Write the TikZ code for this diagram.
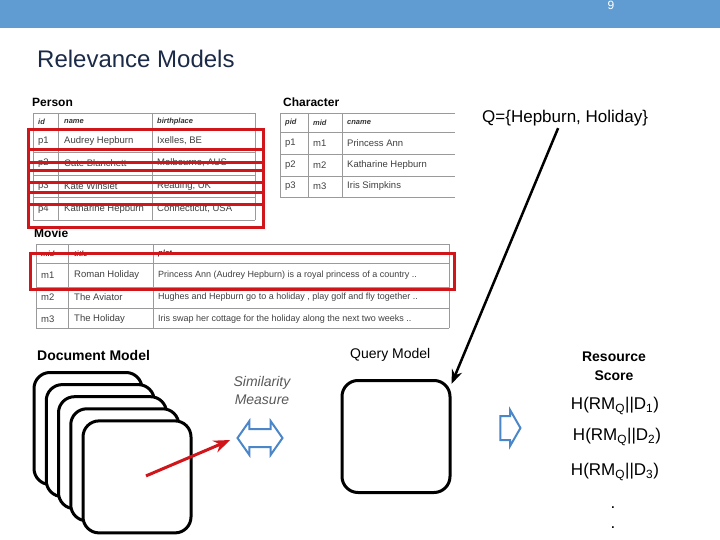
\documentclass[tikz,border=0pt]{standalone}
\usepackage{fontspec}
\setmainfont{Liberation Sans}
\usetikzlibrary{arrows.meta,calc,positioning,shapes.arrows}
\definecolor{bar}{HTML}{609CD2}
\definecolor{navy}{HTML}{1B2A47}
\definecolor{hl}{HTML}{D0161B}
\definecolor{grid}{HTML}{9A9A9A}
\definecolor{sky}{HTML}{4A86C8}

\begin{document}
\begin{tikzpicture}[x=1pt,y=-1pt,>=Stealth,every node/.style={inner sep=0pt},
cell/.style={anchor=west,font=\fontsize{9.5}{11}\selectfont,text=black!75},
head/.style={anchor=west,font=\fontsize{7.5}{9}\selectfont\bfseries\itshape,text=black!80},
tname/.style={anchor=west,font=\fontsize{12}{14}\selectfont\bfseries},
model/.style={draw,line width=3pt,rounded corners=16pt,fill=white,minimum width=108pt,minimum height=112pt},
lbl/.style={font=\fontsize{14}{19}\selectfont,align=center},
score/.style={font=\fontsize{17}{20}\selectfont},
hilite/.style={draw=hl,line width=3pt},
rows/.style={draw=grid,line width=0.8pt}]
\useasboundingbox (0,0) rectangle (720,540);
\fill[bar] (0,0) rectangle (720,28);
\node[text=white,font=\fontsize{12}{14}\selectfont] (pg) at (611,5) {9};
\node[anchor=west,text=navy,font=\fontsize{24}{28}\selectfont] (title) at (37,59) {Relevance Models};

% Person
\node[tname] (person) at (32,102) {Person};
\foreach \y in {113,130,152,175,197,220} \draw[rows] (33,\y) -- (255,\y);
\foreach \x in {33,58,152,255} \draw[rows] (\x,113) -- (\x,220);
\node[head] at (38,122) {id};
\node[head] at (64,122) {name};
\node[head] at (157,122) {birthplace};
\foreach \i/\n/\b/\y in {p1/Audrey Hepburn/{Ixelles, BE}/141,p2/Cate Blanchett/{Melbourne, AUS}/163,
  p3/Kate Winslet/{Reading, UK}/186,p4/Katharine Hepburn/{Connecticut, USA}/209}{
  \node[cell] at (38,\y) {\i};
  \node[cell] at (64,\y) {\n};
  \node[cell] at (157,\y) {\b};
}

% Character
\node[tname] (character) at (283,102) {Character};
\foreach \y in {113,132,154,176,197} \draw[rows] (280,\y) -- (455,\y);
\foreach \x in {280,308,342} \draw[rows] (\x,113) -- (\x,197);
\node[head] at (285,123) {pid};
\node[head] at (313,123) {mid};
\node[head] at (347,123) {cname};
\foreach \p/\m/\c/\y in {p1/m1/Princess Ann/143,p2/m2/Katharine Hepburn/165,p3/m3/Iris Simpkins/186}{
  \node[cell] at (285,\y) {\p};
  \node[cell] at (313,\y) {\m};
  \node[cell] at (347,\y) {\c};
}

% Movie
\node[tname] (movie) at (34,233) {Movie};
\foreach \y in {244,263,287,308,328} \draw[rows] (36,\y) -- (449,\y);
\foreach \x in {36,68,153,449} \draw[rows] (\x,244) -- (\x,328);
\node[head] at (41,254) {mid};
\node[head] at (74,254) {title};
\node[head] at (158,254) {plot};
\foreach \m/\t/\p/\y in {m1/Roman Holiday/{Princess Ann (Audrey Hepburn) is a royal princess of a country ..}/275,
  m2/The Aviator/{Hughes and Hepburn go to a holiday , play golf and fly together ..}/297,
  m3/The Holiday/{Iris swap her cottage for the holiday along the next two weeks ..}/319}{
  \node[cell] at (41,\y) {\m};
  \node[cell] at (74,\y) {\t};
  \node[cell,font=\fontsize{9}{11}\selectfont] at (158,\y) {\p};
}

% highlights
\foreach \t/\b in {130/171,150/193,163/205,183/228} \draw[hilite] (28,\t) rectangle (263,\b);
\draw[hilite] (30,253) rectangle (454,289);

% models
\node[lbl,font=\fontsize{14}{19}\selectfont\bfseries,anchor=west] (dlbl) at (37,355) {Document Model};
\node[lbl,anchor=west] (qlbl) at (350,355) {Query Model};
\node[lbl,font=\fontsize{14}{19}\selectfont\bfseries] (rlbl) at (614,366) {Resource\\Score};
\node[lbl,font=\fontsize{14}{18}\selectfont\itshape,text=black!65] (slbl) at (262,390) {Similarity\\Measure};
\foreach \i in {0,...,4} \node[model] (d\i) at (88+12.25*\i,428.5+12.1*\i) {};
\node[model] (qm) at (396,436.5) {};
\node[double arrow,draw=sky,line width=2pt,fill=white,inner xsep=0pt,inner ysep=8pt,minimum height=45pt,
  double arrow head extend=8pt,double arrow tip angle=110] (sim) at (260,438) {};
\node[single arrow,draw=sky,line width=2pt,fill=white,inner xsep=0pt,inner ysep=11pt,minimum height=20pt,
  single arrow head extend=6pt,single arrow tip angle=120] (res) at (507,428) {};

% scores
\node[score] (h1) at (615,406) {H(RM\textsubscript{Q}||D\textsubscript{1})};
\node[score] (h2) at (617,437) {H(RM\textsubscript{Q}||D\textsubscript{2})};
\node[score] (h3) at (615,472) {H(RM\textsubscript{Q}||D\textsubscript{3})};
\node[score,anchor=base] (dt1) at (613,508) {.};
\node[score,anchor=base] (dt2) at (613,528) {.};

% query
\node[font=\fontsize{17}{20}\selectfont,anchor=west] (q) at (482,118) {Q=\{Hepburn, Holiday\}};
\draw[->,line width=2.5pt] ($(q.south)+(-7,2)$) -- ($(qm.north east)+(0,5)$);
\draw[->,hl,line width=3pt] ($(d4.center)+(9,-1)$) -- ($(sim.west)+(-6,2)$);
\end{tikzpicture}
\end{document}
